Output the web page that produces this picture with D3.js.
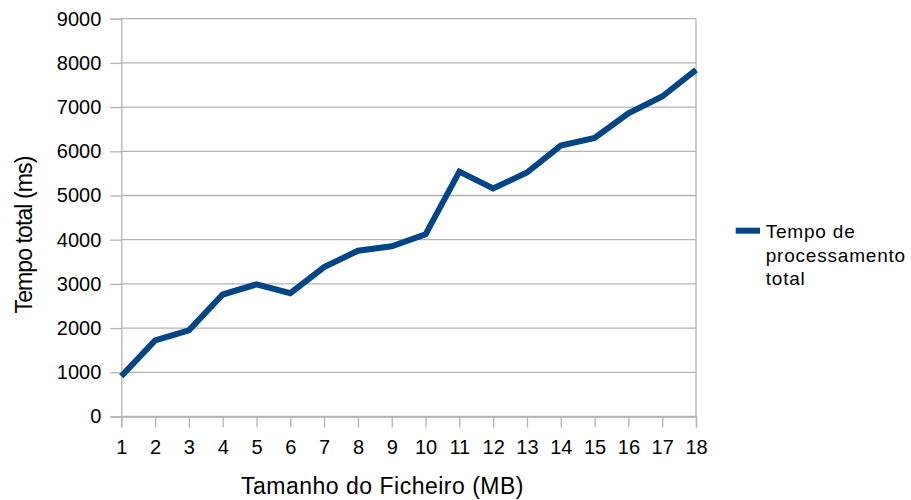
<!DOCTYPE html>
<html>
<head>
<meta charset="utf-8">
<script src="https://cdn.jsdelivr.net/npm/d3@7"></script>
<style>
  html, body { margin: 0; padding: 0; background: #fff; }
  svg { display: block; font-family: "Liberation Sans", Arial, sans-serif; }
</style>
</head>
<body>
<svg id="chart" width="911" height="500"></svg>
<script>
// File size (MB) and total processing time (ms)
const sizes = [1, 2, 3, 4, 5, 6, 7, 8, 9, 10, 11, 12, 13, 14, 15, 16, 17, 18];
const totalTime = [910, 1720, 1950, 2760, 2990, 2790, 3380, 3750, 3850, 4120, 5540, 5160, 5520, 6130, 6300, 6860, 7240, 7840];
const yTicks = [0, 1000, 2000, 3000, 4000, 5000, 6000, 7000, 8000, 9000];
const seriesName = ["Tempo de", "processamento", "total"];
const xTitle = "Tamanho do Ficheiro (MB)";
const yTitle = "Tempo total (ms)";

const svg = d3.select("#chart");
const plot = { left: 121.3, right: 696, top: 18.7, bottom: 416.5 };
const gridColor = "#b3b3b3";
const lineColor = "#004586";
const fontFamily = "'Liberation Sans', Arial, sans-serif";

const x = d3.scaleLinear().domain([1, 18]).range([plot.left, plot.right]);
const y = d3.scaleLinear().domain([0, 9000]).range([plot.bottom, plot.top]);

// Horizontal gridlines
svg.append("g")
  .selectAll("line")
  .data(yTicks)
  .join("line")
  .attr("x1", plot.left).attr("x2", plot.right)
  .attr("y1", d => y(d)).attr("y2", d => y(d))
  .attr("stroke", gridColor).attr("stroke-width", 1.3);

// Right border of the plot area
svg.append("line")
  .attr("x1", plot.right).attr("x2", plot.right)
  .attr("y1", plot.top).attr("y2", plot.bottom)
  .attr("stroke", gridColor).attr("stroke-width", 1.3);

// Y axis
const yAxis = svg.append("g")
  .attr("transform", `translate(${plot.left},0)`)
  .call(d3.axisLeft(y).tickValues(yTicks).tickSize(11).tickPadding(9).tickFormat(d3.format("d")));
yAxis.select(".domain").attr("stroke", gridColor).attr("stroke-width", 1.3);
yAxis.selectAll(".tick line").attr("stroke", gridColor).attr("stroke-width", 1.3);
yAxis.selectAll("text").attr("font-size", 20).attr("fill", "#000")
  .attr("font-family", fontFamily);

// X axis
const xAxis = svg.append("g")
  .attr("transform", `translate(0,${plot.bottom})`)
  .call(d3.axisBottom(x).tickValues(sizes).tickSize(11).tickPadding(12).tickFormat(d3.format("d")));
xAxis.select(".domain").attr("stroke", gridColor).attr("stroke-width", 1.3);
xAxis.selectAll(".tick line").attr("stroke", gridColor).attr("stroke-width", 1.3);
xAxis.selectAll("text").attr("font-size", 20).attr("fill", "#000")
  .attr("font-family", fontFamily);

// Data line
svg.append("path")
  .datum(sizes.map((s, i) => [s, totalTime[i]]))
  .attr("fill", "none")
  .attr("stroke", lineColor)
  .attr("stroke-width", 6)
  .attr("stroke-linejoin", "miter")
  .attr("d", d3.line().x(d => x(d[0])).y(d => y(d[1])));

// Axis titles
svg.append("text")
  .attr("x", 382.5).attr("y", 493.5)
  .attr("text-anchor", "middle")
  .attr("font-size", 23)
  .attr("letter-spacing", 0.5)
  .text(xTitle);

svg.append("text")
  .attr("transform", `translate(31.5,235) rotate(-90)`)
  .attr("text-anchor", "middle")
  .attr("font-size", 23)
  .attr("letter-spacing", -0.9)
  .text(yTitle);

// Legend
const legend = svg.append("g");
legend.append("line")
  .attr("x1", 735.7).attr("x2", 760)
  .attr("y1", 230.7).attr("y2", 230.7)
  .attr("stroke", lineColor).attr("stroke-width", 6);
legend.append("text")
  .attr("x", 765.7).attr("y", 238.3)
  .attr("font-size", 19)
  .attr("letter-spacing", 0.8)
  .selectAll("tspan")
  .data(seriesName)
  .join("tspan")
  .attr("x", 765.7)
  .attr("dy", (d, i) => i === 0 ? 0 : 23.3)
  .text(d => d);
</script>
</body>
</html>
